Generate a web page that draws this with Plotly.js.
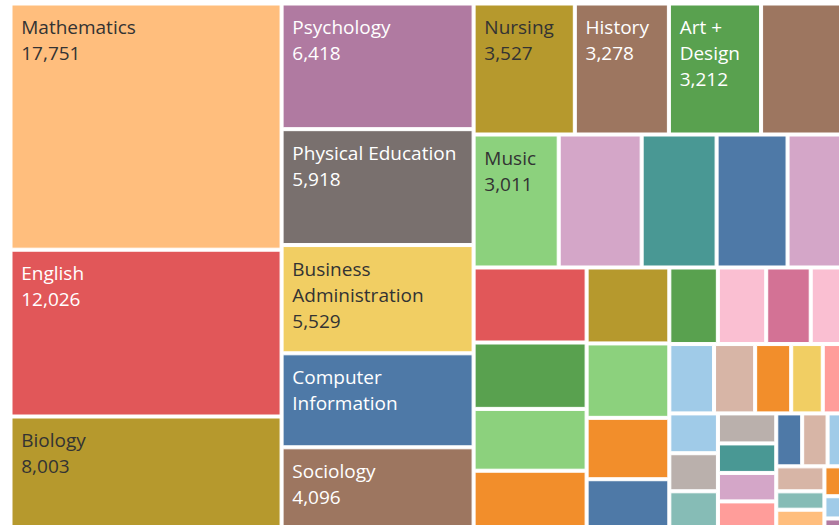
<!DOCTYPE html>
<html>
<head>
<meta charset="utf-8">
<script src="https://cdn.plot.ly/plotly-3.0.1.min.js"></script>
<style>
  html, body { margin: 0; padding: 0; overflow: hidden; background: #ffffff; }
  #chart { width: 850px; height: 526px; }
</style>
</head>
<body>
<div id="chart"></div>
<script>
// Majors (tile ids), sorted by enrollment
const majors = [
  "Mathematics", "English", "Biology", "Psychology", "Physical Education",
  "Business Administration", "Computer Information", "Sociology", "Nursing", "History",
  "Art + Design", "Major 12", "Music", "Major 14", "Major 15",
  "Major 16", "Major 17", "Major 18", "Major 19", "Major 20",
  "Major 21", "Major 22", "Major 23", "Major 24", "Major 25",
  "Major 26", "Major 27", "Major 28", "Major 29", "Major 30",
  "Major 31", "Major 32", "Major 33", "Major 34", "Major 35",
  "Major 36", "Major 37", "Major 38", "Major 39", "Major 40",
  "Major 41", "Major 42", "Major 43", "Major 44", "Major 45",
  "Major 46", "Major 47", "Major 48", "Major 49", "Major 50",
  "Major 51", "Major 52"
];

// Enrollment per major (labelled values exact, others estimated from tile areas)
const enrollments = [
  17751, 12026, 8003, 6418, 5918,
  5529, 4800, 4096, 3527, 3278,
  3212, 3150, 3011, 2934, 2651,
  2510, 2262, 2255, 1995, 1859,
  1707, 1670, 1637, 1350, 1062,
  988, 985, 906, 830, 825,
  758, 665, 582, 530, 515,
  492, 468, 466, 458, 442,
  405, 365, 358, 337, 320,
  235, 228, 215, 110, 50,
  45, 20
];

// Label text shown in the tile ("" = no label), "\n" marks a line break
const displayNames = [
  "Mathematics", "English", "Biology", "Psychology", "Physical Education",
  "Business\nAdministration", "Computer\nInformation", "Sociology", "Nursing", "History",
  "Art +\nDesign", "", "Music"
];
// whether the value line is shown under the label
const showValue = [
  true, true, true, true, true,
  true, false, true, true, true,
  true, false, true
];

// Tile colours (Tableau 20)
const tileColors = [
  "#FFBE7D", "#E15759", "#B6992D", "#B07AA1", "#79706E",
  "#F1CE63", "#4E79A7", "#9D7660", "#B6992D", "#9D7660",
  "#59A14F", "#9D7660", "#8CD17D", "#D4A6C8", "#499894",
  "#4E79A7", "#D4A6C8", "#E15759", "#59A14F", "#8CD17D",
  "#F28E2B", "#B6992D", "#8CD17D", "#F28E2B", "#4E79A7",
  "#59A14F", "#FABFD2", "#D37295", "#FABFD2", "#A0CBE8",
  "#D7B5A6", "#F28E2B", "#F1CE63", "#FF9D9A", "#A0CBE8",
  "#BAB0AC", "#86BCB6", "#BAB0AC", "#499894", "#D4A6C8",
  "#FF9D9A", "#4E79A7", "#D7B5A6", "#A0CBE8", "#D7B5A6",
  "#86BCB6", "#FFBE7D", "#F28E2B", "#A0CBE8", "#D37295",
  "#B07AA1", "#E15759"
];

// Text colour per labelled tile
const textColors = [
  "#333333", "#ffffff", "#333333", "#ffffff", "#ffffff",
  "#333333", "#ffffff", "#ffffff", "#333333", "#ffffff",
  "#ffffff", "#ffffff", "#333333"
];

const lead = '<span style="font-size:24px">\u00a0</span>';
function line(s) { return lead + '<span style="font-size:19px">' + s + '</span>'; }

const tileText = majors.map((m, i) => {
  const name = displayNames[i] || "";
  if (!name) return "";
  const lines = name.split("\n").map(line);
  if (showValue[i]) lines.push(line(enrollments[i].toLocaleString("en-US")));
  return lines.join("<br>");
});
const txtCol = majors.map((m, i) => textColors[i] || "#333333");

const trace = {
  type: "treemap",
  labels: majors,
  parents: majors.map(() => ""),
  values: enrollments,
  text: tileText,
  texttemplate: "%{text}",
  textposition: "top left",
  sort: true,
  branchvalues: "remainder",
  tiling: { packing: "squarify", squarifyratio: 1.65 },
  pathbar: { visible: false },
  marker: {
    colors: tileColors,
    line: { color: "#ffffff", width: 1 },
    pad: { t: 0, l: 0, r: 0, b: 0 }
  },
  textfont: { family: "Open Sans", size: 20, color: txtCol },
  insidetextfont: { family: "Open Sans", size: 20, color: txtCol },
  hovertemplate: "%{label}<br>%{value:,}<extra></extra>"
};

const layout = {
  width: 850,
  height: 526,
  margin: { l: 12, r: 0, t: 5, b: 0 },
  paper_bgcolor: "#ffffff",
  showlegend: false
};

Plotly.newPlot("chart", [trace], layout, { displayModeBar: false, staticPlot: true });
</script>
</body>
</html>
